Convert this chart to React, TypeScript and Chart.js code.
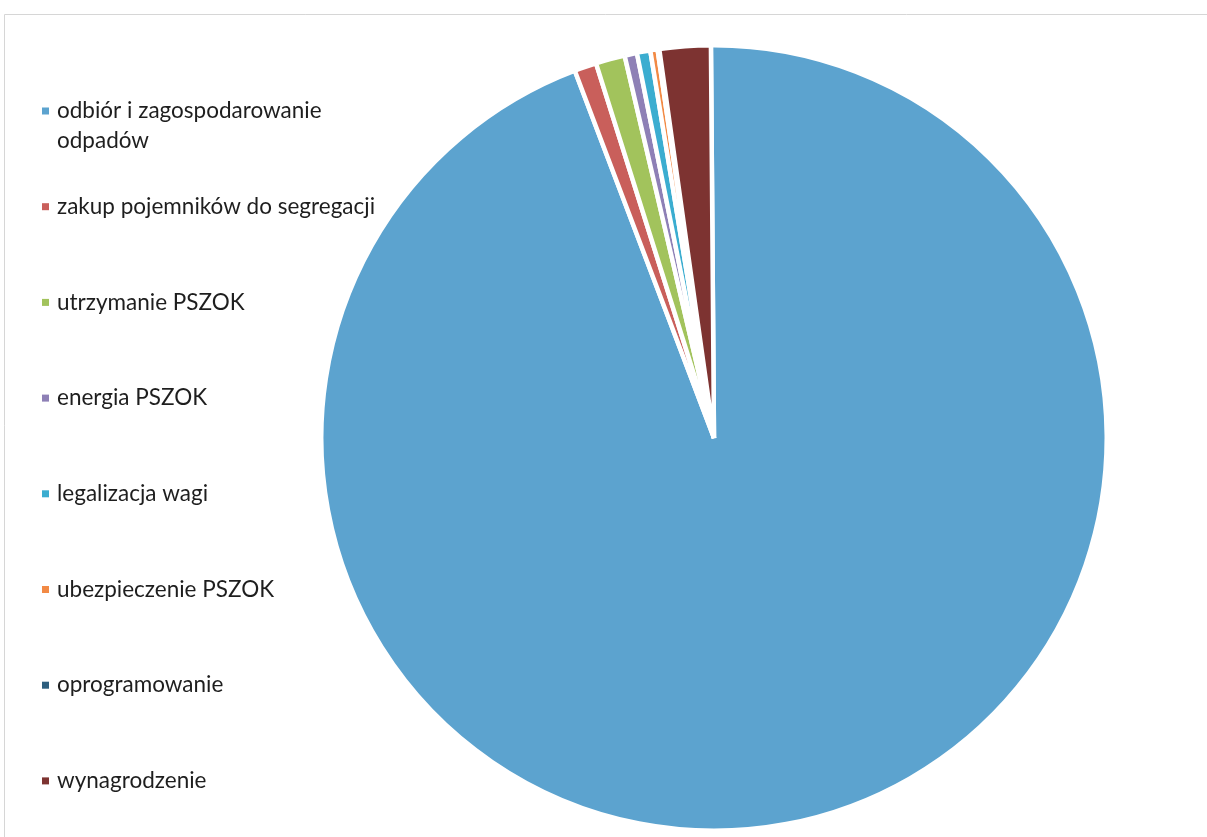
import React, { useEffect, useRef } from "react";
import { Chart, registerables } from "chart.js";

Chart.register(...registerables);

const categories: string[][] = [
  ["odbiór i zagospodarowanie", "odpadów"],
  ["zakup pojemników do segregacji"],
  ["utrzymanie PSZOK"],
  ["energia PSZOK"],
  ["legalizacja wagi"],
  ["ubezpieczenie PSZOK"],
  ["oprogramowanie"],
  ["wynagrodzenie"],
];

const values: number[] = [94.36, 0.91, 1.2, 0.51, 0.55, 0.3, 0.07, 2.1];

const colors: string[] = [
  "#5CA3CF",
  "#C95F5B",
  "#A2C35C",
  "#8E80B6",
  "#3BADD0",
  "#F28A45",
  "#2D5F7E",
  "#7D3331",
];

const legendPlugin = {
  id: "sideLegend",
  afterDraw(chart: any) {
    const ctx = chart.ctx;
    ctx.save();
    // faint frame
    ctx.strokeStyle = "#d6d6d6";
    ctx.lineWidth = 1;
    ctx.beginPath();
    ctx.moveTo(4.5, 837);
    ctx.lineTo(4.5, 14.5);
    ctx.lineTo(1207, 14.5);
    ctx.stroke();

    const startY = 111;
    const step = 95.7;
    ctx.font = "22.5px Lato, 'Open Sans', sans-serif";
    ctx.textBaseline = "middle";
    ctx.textAlign = "left";
    categories.forEach((lines, i) => {
      const y = startY + i * step;
      ctx.fillStyle = colors[i];
      ctx.fillRect(42, y - 3.5, 7, 7);
      ctx.fillStyle = "#1e1e1e";
      lines.forEach((t, j) => {
        ctx.fillText(t, 57, y + j * 30);
      });
    });
    ctx.restore();
  },
};

export default function App() {
  const ref = useRef<HTMLCanvasElement | null>(null);
  useEffect(() => {
    document.body.style.margin = "0";
    const canvas = ref.current;
    if (!canvas) return;
    const chart = new Chart(canvas, {
      type: "pie",
      data: {
        labels: categories.map((c) => c.join(" ")),
        datasets: [
          {
            data: values,
            backgroundColor: colors,
            borderColor: "#ffffff",
            borderWidth: 4.5,
          },
        ],
      },
      options: {
        animation: false,
        responsive: false,
        devicePixelRatio: 1,
        rotation: -0.45,
        layout: { padding: { left: 319, right: 98, top: 43, bottom: 4 } },
        plugins: {
          legend: { display: false },
          tooltip: { enabled: false },
        },
      },
      plugins: [legendPlugin],
    });
    return () => chart.destroy();
  }, []);
  return (
    <div style={{ width: 1207, height: 837, background: "#fff" }}>
      <canvas ref={ref} width={1207} height={837} style={{ display: "block" }} />
    </div>
  );
}
